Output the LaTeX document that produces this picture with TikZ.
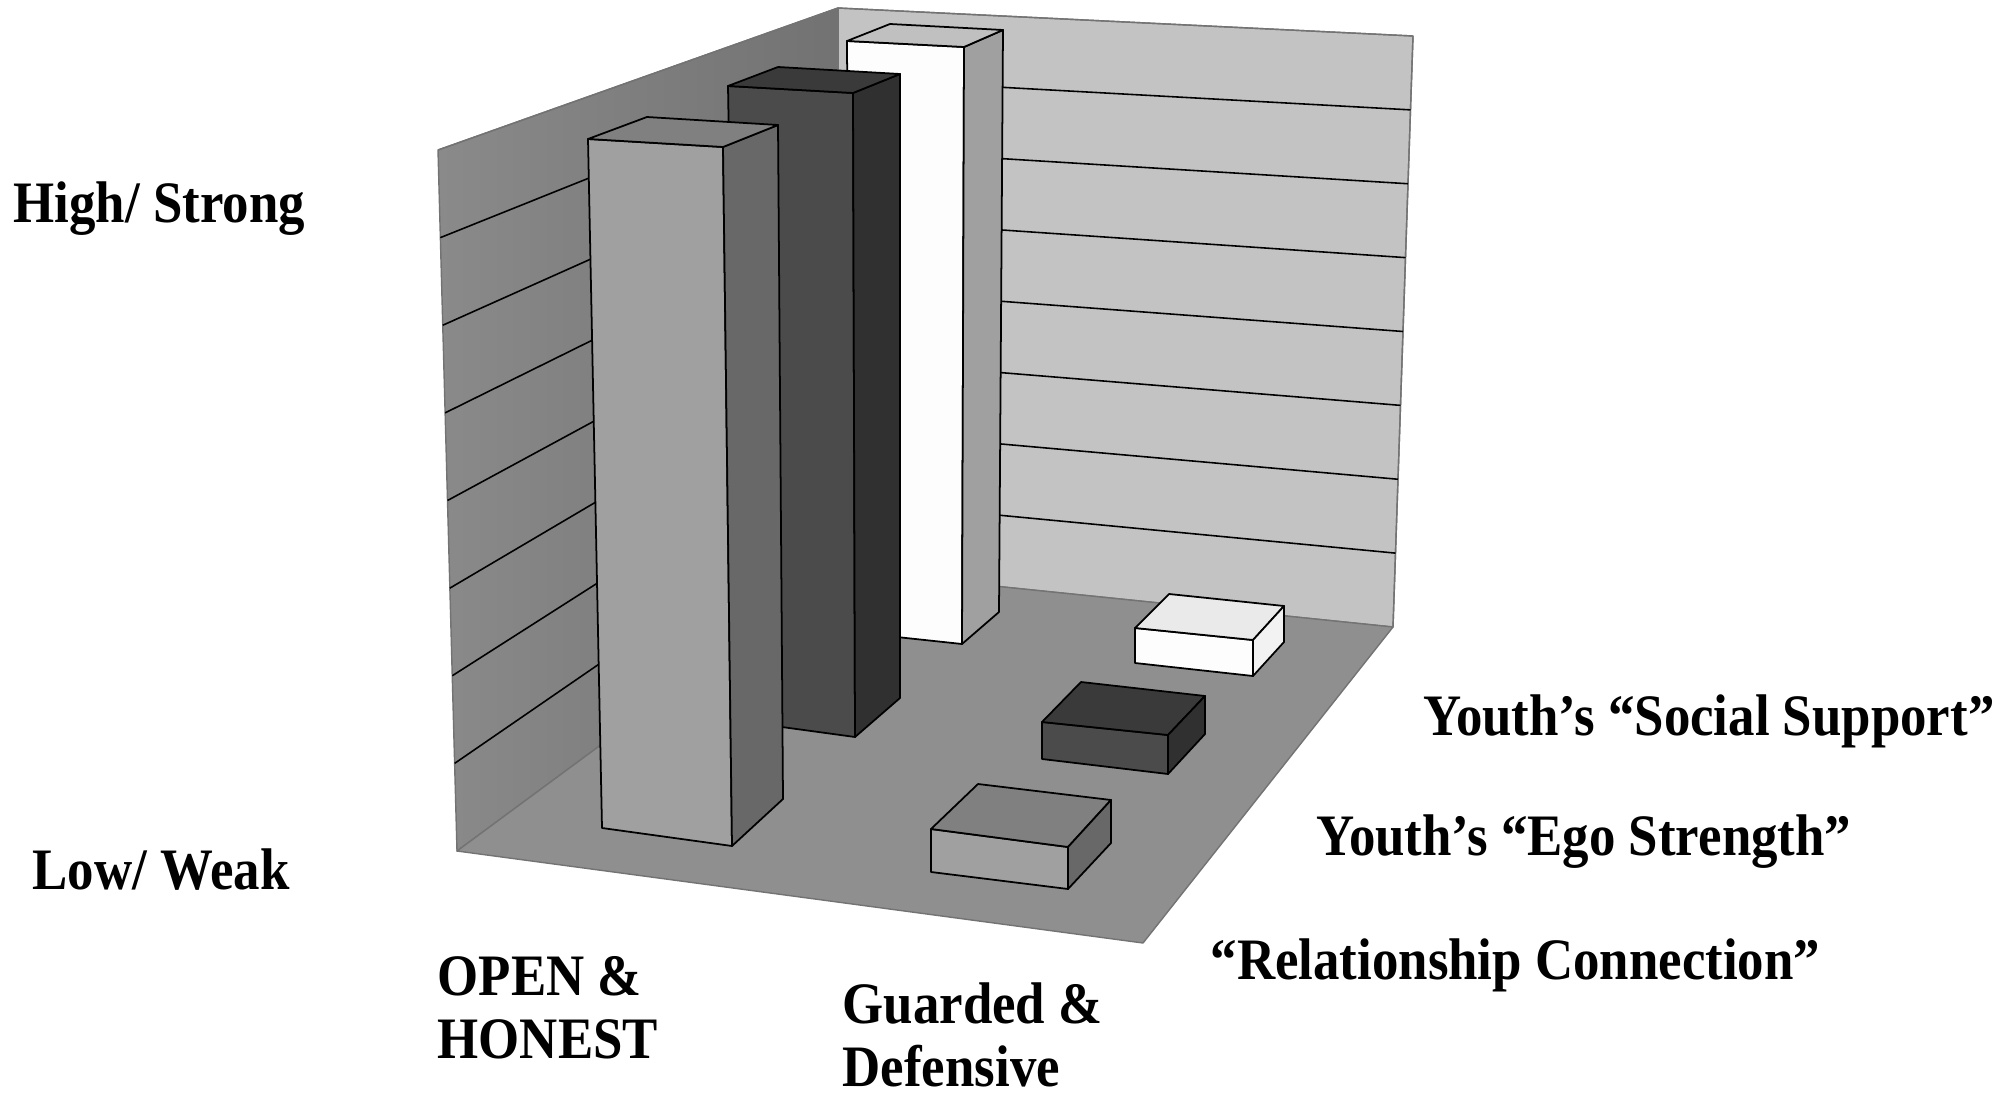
\documentclass[tikz,border=0pt]{standalone}
\usepackage{fontspec}
\setmainfont{Liberation Serif}[FakeStretch=0.9]
\usepackage{tikz}
\usetikzlibrary{positioning}
\definecolor{wallback}{RGB}{195,195,195}
\definecolor{wallleftA}{RGB}{138,138,138}
\definecolor{wallleftB}{RGB}{114,114,114}
\definecolor{floorgray}{RGB}{143,143,143}
\definecolor{midfront}{RGB}{160,160,160}
\definecolor{midtop}{RGB}{128,128,128}
\definecolor{midside}{RGB}{104,104,104}
\definecolor{darkfront}{RGB}{75,75,75}
\definecolor{darktop}{RGB}{58,58,58}
\definecolor{darkside}{RGB}{48,48,48}
\definecolor{whitefront}{RGB}{253,253,253}
\definecolor{whitetop}{RGB}{192,192,192}
\definecolor{whiteside}{RGB}{160,160,160}
\definecolor{lowwhtop}{RGB}{234,234,234}
\definecolor{lowwhside}{RGB}{242,242,242}
\tikzset{
  wall/.style = {draw=black!55, line width=0.4pt, line join=round},
  grid/.style = {draw=black, line width=0.45pt},
  face/.style = {draw=black, line width=0.5pt, line join=round},
  lbl/.style = {font=\fontsize{16.7}{17.8}\selectfont\bfseries, inner sep=0pt,
    anchor=base west, align=left}
}

\begin{document}
\begin{tikzpicture}[x=0.01cm, y=-0.01cm]
\useasboundingbox (0,0) rectangle (2015,1094);

% walls and floor
\fill[wall, left color=wallleftA, right color=wallleftB]
  (438,150) -- (838,8) -- (838,570) -- (457,851) -- cycle;
\fill[wall, fill=wallback] (838,8) -- (1413,36) -- (1393,627) -- (838,570) -- cycle;
\draw[wall] (438,150) -- (838,8) -- (1413,36) -- (1393,627);
\draw[wall] (838,8) -- (838,570);
\foreach \k in {1,...,7}
  \draw[grid] ({438+19*\k/8},{150+701*\k/8}) -- (838,{8+562*\k/8})
    -- ({1413-20*\k/8},{36+591*\k/8});
\filldraw[wall, fill=floorgray] (457,851) -- (838,570) -- (1393,627) -- (1143,943) -- cycle;

% tall bars, back to front
\filldraw[face, fill=whitefront] (847,41) -- (964,47) -- (962,644) -- (850,632) -- cycle;
\filldraw[face, fill=whiteside] (964,47) -- (1003,30) -- (999,612) -- (962,644) -- cycle;
\filldraw[face, fill=whitetop] (847,41) -- (890,24) -- (1003,30) -- (964,47) -- cycle;

\filldraw[face, fill=darkfront] (728,86) -- (853,93) -- (855,737) -- (738,721) -- cycle;
\filldraw[face, fill=darkside] (853,93) -- (900,74) -- (900,698) -- (855,737) -- cycle;
\filldraw[face, fill=darktop] (728,86) -- (778,67) -- (900,74) -- (853,93) -- cycle;

\filldraw[face, fill=midfront] (588,139) -- (723,147) -- (732,846) -- (602,828) -- cycle;
\filldraw[face, fill=midside] (723,147) -- (778,125) -- (783,799) -- (732,846) -- cycle;
\filldraw[face, fill=midtop] (588,139) -- (647,117) -- (778,125) -- (723,147) -- cycle;

% low boxes
\filldraw[face, fill=whitefront] (1135,628) -- (1253,640) -- (1253,676) -- (1135,663) -- cycle;
\filldraw[face, fill=lowwhtop] (1135,628) -- (1169,594) -- (1284,606) -- (1253,640) -- cycle;
\filldraw[face, fill=lowwhside] (1253,640) -- (1284,606) -- (1284,642) -- (1253,676) -- cycle;

\filldraw[face, fill=darkfront] (1042,722) -- (1168,735) -- (1168,774) -- (1042,759) -- cycle;
\filldraw[face, fill=darktop] (1042,722) -- (1081,682) -- (1205,696) -- (1168,735) -- cycle;
\filldraw[face, fill=darkside] (1168,735) -- (1205,696) -- (1205,734) -- (1168,774) -- cycle;

\filldraw[face, fill=midfront] (931,829) -- (1068,847) -- (1068,889) -- (931,872) -- cycle;
\filldraw[face, fill=midtop] (931,829) -- (978,784) -- (1111,800) -- (1068,847) -- cycle;
\filldraw[face, fill=midside] (1068,847) -- (1111,800) -- (1111,843) -- (1068,889) -- cycle;

% labels
\node[lbl] (high) at (13,222) {High/ Strong};
\node[lbl] (low) at (32,889) {Low/ Weak};
\node[lbl] (open) at (437,1058) {OPEN \&\\HONEST};
\node[lbl] (guarded) at (842,1086) {Guarded \&\\Defensive};
\node[lbl] (social) at (1423,735) {Youth’s “Social Support”};
\node[lbl] (ego) at (1316,855) {Youth’s “Ego Strength”};
\node[lbl] (relconn) at (1210,979) {“Relationship Connection”};
\end{tikzpicture}
\end{document}
